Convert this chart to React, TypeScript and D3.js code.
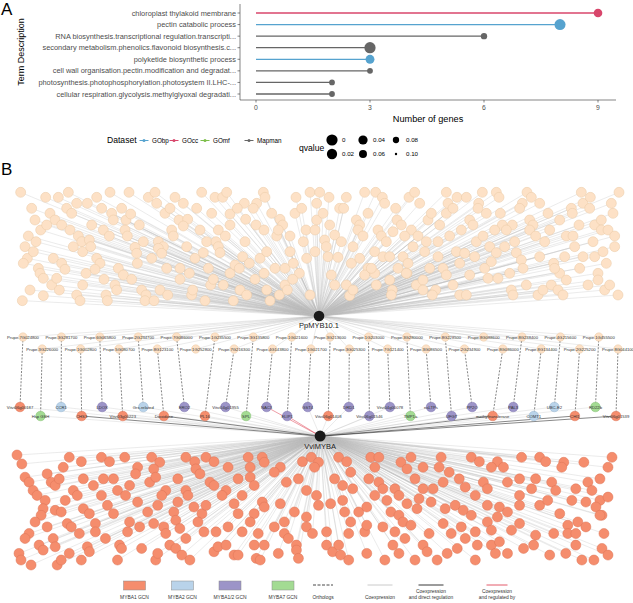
import React from "react";
import * as d3 from "d3";

// ---------- panel A data ----------
const terms = [
  "chloroplast thylakoid membrane",
  "pectin catabolic process",
  "RNA biosynthesis.transcriptional regulation.transcripti...",
  "secondary metabolism.phenolics.flavonoid biosynthesis.c...",
  "polyketide biosynthetic process",
  "cell wall organisation.pectin.modification and degradat...",
  "photosynthesis.photophosphorylation.photosystem II.LHC-...",
  "cellular respiration.glycolysis.methylglyoxal degradati...",
];
const geneCounts = [9, 8, 6, 3, 3, 3, 2, 2];
const termDatasets = ["GOcc", "GObp", "Mapman", "Mapman", "GObp", "Mapman", "Mapman", "Mapman"];
const termQvalues = [0.05, 0.003, 0.08, 0.0, 0.045, 0.085, 0.085, 0.085];
const datasetNames = ["GObp", "GOcc", "GOmf", "Mapman"];
const datasetColors = ["#56A3CF", "#D8466B", "#7DBE4B", "#666666"];
const xTicks = [0, 3, 6, 9];
const qLegend = [0, 0.02, 0.04, 0.06, 0.08, 0.1];

// ---------- panel B data ----------
// PpMYB10.1 co-expression network (layout units, left/right halves)
const topLeftNodes = [
  [62,97],[137,112],[175,112],[205,97],[262,130],[290,112],[330,97],[387,97],[445,112],[465,97],[470,130],[525,112],[550,130],[605,97],[645,112],[668,112],[680,97],[733,130],[770,130],[790,97],[795,112],[888,112],[930,97],[950,130],
  [95,145],[105,180],[150,160],[165,180],[200,145],[215,160],[230,130],[305,145],[335,160],[340,180],[365,145],[378,180],[392,162],[418,195],[495,160],[510,145],[537,180],[563,178],[550,198],[590,145],[635,160],[690,162],[712,145],[737,178],[760,145],[768,195],[815,160],[840,178],[848,195],[885,160],[905,145],[950,180],
  [85,228],[108,245],[122,210],[140,195],[185,195],[210,210],[235,228],[245,245],[268,240],[275,195],[310,210],[328,228],[375,210],[382,228],[430,245],[475,245],[490,260],[515,210],[520,228],[560,260],[600,210],[620,245],[648,245],[655,210],[676,228],[690,195],[735,245],[792,210],[830,228],[835,210],[870,228],[910,245],[918,210],[945,210],
  [75,260],[82,295],[70,310],[100,275],[160,295],[185,310],[195,328],[220,260],[248,275],[272,260],[290,295],[300,310],[285,328],[355,325],[370,345],[405,262],[410,280],[412,310],[455,295],[475,265],[485,280],[500,325],[540,325],[568,340],[585,295],[610,278],[625,325],[655,260],[660,278],[690,340],[705,315],[718,325],[728,290],[748,310],[780,295],[792,340],[800,275],[825,325],[855,325],[870,275],[880,310],[898,340],[920,295],[945,275],
  [115,325],[120,340],[130,355],[155,375],[170,355],[178,390],[90,390],[130,407],[67,422],[230,405],[240,422],[248,375],[258,340],[312,358],[318,405],[322,422],[345,375],[350,390],[395,358],[425,390],[438,405],[435,422],[462,422],[480,390],[503,405],[540,358],[575,405],[578,390],[615,422],[632,375],[640,358],[670,375],[700,422],[720,390],[740,405],[765,358],[800,390],[810,422],[838,405],[855,375],[862,390],[878,358],[930,405],
];
const topRightNodes = [
  [20,97],[48,112],[100,112],[155,97],[188,97],[208,112],[215,130],[288,112],[305,97],[320,130],[400,97],[405,130],[432,112],[460,112],[497,130],[508,97],[550,97],[558,112],[628,130],[642,97],[655,112],[680,130],[805,97],[810,130],[832,112],[895,130],[918,97],
  [30,160],[50,195],[80,145],[92,145],[130,180],[140,195],[165,160],[248,145],[252,180],[265,195],[295,210],[345,180],[355,160],[380,195],[400,160],[420,145],[470,180],[480,195],[495,145],[520,160],[562,160],[568,195],[598,195],[620,145],[650,180],[660,195],[705,160],[740,180],[775,145],[778,160],[798,195],[830,145],[845,195],[865,180],[900,160],
  [35,240],[40,260],[65,225],[85,245],[120,260],[135,210],[150,228],[195,210],[205,228],[220,245],[185,275],[240,215],[275,228],[300,260],[315,228],[340,245],[375,245],[410,228],[445,210],[490,245],[510,228],[530,260],[545,210],[575,260],[580,210],[605,245],[610,278],[650,210],[668,228],[695,245],[710,210],[760,228],[780,228],[785,260],[840,245],[865,210],[885,210],[905,228],[905,260],
  [45,290],[75,292],[115,310],[140,295],[165,325],[185,340],[210,290],[230,290],[270,290],[285,310],[255,325],[282,340],[335,275],[350,325],[375,290],[390,325],[400,345],[430,275],[440,310],[455,280],[485,290],[515,325],[535,305],[550,278],[590,340],[625,300],[630,325],[680,290],[722,310],[740,340],[725,325],[755,290],[800,325],[810,290],[845,290],[870,275],[880,310],[855,340],
  [55,345],[65,375],[100,375],[110,407],[120,390],[155,345],[175,325],[190,375],[230,360],[238,390],[235,405],[280,340],[310,375],[330,360],[330,390],[368,390],[358,405],[420,375],[440,405],[460,405],[470,345],[525,355],[555,355],[595,390],[600,405],[640,375],[675,405],[690,390],[715,375],[735,390],[750,405],[760,360],[825,375],[855,360],[875,390],[890,375],[915,405],
];
// VviMYBA co-expression network (layout units)
const bottomNodes = [
  [50,28],[62,55],[180,35],[165,65],[210,48],[260,35],[280,48],[318,35],[385,35],[405,50],[390,70],[470,35],[492,48],[520,35],[495,70],[540,48],[575,65],[625,35],[630,65],[660,35],[665,50],[705,65],[760,48],[782,35],[800,50],[790,65],[850,35],[870,48],[880,80],[930,35],[950,35],[940,65],[1005,50],[1020,70],[1030,35],[1060,65],[1105,35],[1100,65],[1125,80],[1180,35],[1200,48],[1245,48],[1260,65],[1230,65],[1305,35],[1350,35],[1365,48],[1410,50],[1405,65],[1460,50],[1530,35],[1520,65],
  [70,95],[80,110],[90,135],[125,85],[135,110],[145,120],[155,100],[190,135],[215,100],[240,120],[265,100],[290,100],[300,135],[330,120],[350,65],[345,85],[380,110],[395,95],[420,135],[450,100],[470,135],[505,85],[530,110],[540,120],[570,135],[600,100],[630,95],[640,120],[690,80],[720,110],[750,100],[770,135],[795,150],[840,100],[860,120],[885,130],[925,100],[950,110],[960,130],[990,130],[1000,150],[1040,100],[1060,130],[1085,130],[1110,110],[1150,100],[1165,125],[1190,150],[1210,110],[1220,130],[1270,110],[1300,100],[1340,100],[1330,130],[1380,110],[1390,135],[1440,130],[1470,110],[1500,100],[1480,135],
  [100,150],[120,165],[115,190],[110,210],[170,165],[145,195],[160,200],[200,150],[215,190],[230,205],[260,150],[275,180],[290,205],[320,150],[350,170],[375,200],[400,180],[410,150],[440,200],[450,170],[475,150],[490,185],[510,205],[520,180],[560,150],[590,175],[600,205],[610,150],[640,205],[660,170],[665,185],[705,175],[740,200],[770,215],[800,180],[830,175],[860,165],[865,200],[900,200],[920,185],[940,150],[970,165],[980,200],[1000,210],[1020,175],[1050,160],[1045,190],[1080,170],[1115,190],[1140,180],[1160,195],[1180,210],[1220,180],[1250,185],[1245,215],[1270,200],[1300,150],[1300,180],[1350,180],[1370,165],[1400,205],[1430,165],[1465,170],[1500,165],[1505,210],[1490,185],[1520,155],
  [95,230],[80,265],[70,280],[125,245],[140,280],[175,235],[205,265],[185,245],[245,235],[245,260],[270,280],[330,230],[325,260],[305,300],[355,245],[390,235],[415,245],[420,265],[445,225],[455,250],[470,280],[500,230],[515,260],[545,260],[575,245],[630,230],[610,260],[650,265],[690,245],[715,230],[715,265],[725,280],[770,245],[785,265],[820,260],[880,230],[875,265],[915,260],[920,240],[960,245],[990,260],[1010,230],[1015,280],[1030,240],[1075,265],[1110,235],[1130,265],[1155,245],[1165,280],[1190,260],[1220,230],[1230,255],[1280,255],[1300,235],[1340,270],[1385,265],[1420,240],[1420,265],[1445,230],[1440,265],[1465,245],[1500,210],[1510,265],
  [55,325],[60,345],[85,360],[105,300],[115,315],[145,305],[150,360],[160,345],[180,325],[210,345],[225,305],[230,320],[300,345],[310,310],[360,310],[395,345],[400,325],[430,300],[445,310],[460,330],[480,345],[540,320],[550,305],[570,300],[590,330],[600,330],[645,340],[655,345],[640,300],[665,300],[700,325],[745,300],[745,315],[750,340],[820,300],[835,320],[850,300],[855,330],[875,345],[920,325],[965,345],[985,300],[1000,325],[1040,345],[1060,300],[1070,320],[1095,345],[1120,325],[1145,310],[1190,345],[1195,300],[1230,300],[1250,290],[1240,325],[1270,325],[1310,310],[1335,300],[1375,330],[1415,325],[1440,300],[1455,345],[1485,345],[1505,310],[1520,330],
];
const hubTop = { name: "PpMYB10.1", pos: [957, 468] };
const hubBottom = { name: "VviMYBA", pos: [804, -29] };

// peach orthologs, alternating upper/lower row
const prupeGenes = [
  "Prupe.7G024800","Prupe.3G226000","Prupe.3G281700","Prupe.1G002800","Prupe.6G065800","Prupe.5G080700",
  "Prupe.2G234700","Prupe.8G123100","Prupe.7G086000","Prupe.1G252800","Prupe.1G235500","Prupe.7G216300",
  "Prupe.3G135800","Prupe.4G143800","Prupe.1G021600","Prupe.1G021700","Prupe.3G213600","Prupe.3G025300",
  "Prupe.1G203000","Prupe.7G121400","Prupe.3G280000","Prupe.3G086500","Prupe.8G228500","Prupe.2G234900",
  "Prupe.8G088600","Prupe.8G086000","Prupe.8G238400","Prupe.8G134400","Prupe.4G215600","Prupe.2G225200",
  "Prupe.1G455500","Prupe.8G044100",
];
// grapevine genes, alternating upper/lower row
const vviGenes = [
  "Vitvi06g00187","Hsp GSH","CCR1","CHS3","LDOX","Vitvi03g00223","Grx-related","Dioxidase","ERO2","PL16",
  "Vitvi04g01955","SPL","NAC3","ELIP1","GST4","Vitvi06g01408","DRD1","Vitvi06g01546","Vitvi04g00078","TMP1a",
  "nsLTPs","UFGT","PP2O","methyltransferase","PAL3","COMT1","UBC-E2","CHI1","RD22b","Vitvi06g01539",
];
const vviGroups = [
  "MYBA1","MYBA7","MYBA2","MYBA1","MYBA1/2","MYBA1","MYBA2","MYBA1","MYBA1/2","MYBA1",
  "MYBA1/2","MYBA7","MYBA1/2","MYBA1/2","MYBA1/2","MYBA1","MYBA1/2","MYBA1/2","MYBA1/2","MYBA7",
  "MYBA1/2","MYBA1/2","MYBA1/2","MYBA1","MYBA1/2","MYBA2","MYBA2","MYBA1","MYBA7","MYBA1",
];
const vviOrthologs = [
  "Prupe.7G024800","Prupe.3G226000","Prupe.3G281700","Prupe.1G002800","Prupe.6G065800","Prupe.5G080700",
  "Prupe.2G234700","Prupe.8G123100","Prupe.7G086000","Prupe.1G235500","Prupe.7G216300","Prupe.3G135800",
  "Prupe.4G143800","Prupe.1G021600","Prupe.1G021700","Prupe.3G213600","Prupe.3G025300","Prupe.1G203000",
  "Prupe.7G121400","Prupe.3G280000","Prupe.3G086500","Prupe.8G228500","Prupe.2G234900","Prupe.8G086000",
  "Prupe.8G238400","Prupe.8G134400","Prupe.4G215600","Prupe.2G225200","Prupe.1G455500","Prupe.8G044100",
];
const vviEdgeTypes = [
  "coexp","coexp","coexp","direct","coexp","coexp","coexp","direct","coexp","coexp",
  "coexp","coexp","regulated","regulated","coexp","coexp","coexp","coexp","coexp","coexp",
  "coexp","coexp","coexp","direct","coexp","coexp","coexp","direct","coexp","direct",
];
const groupNames = ["MYBA1", "MYBA2", "MYBA1/2", "MYBA7"];
const groupFills = ["#F58D6D", "#B9D3EA", "#9C94C8", "#A3DB93"];
const groupStrokes = ["#DC7457", "#98B6D0", "#8077B0", "#86C175"];
const edgeTypes = ["orthologs", "coexp", "direct", "regulated"];
const edgeColors = ["#333333", "#BDBDBD", "#222222", "#E0485A"];

const FONT = "'Liberation Sans', Arial, Helvetica, sans-serif";

export default function App() {
  // ----- scales panel A -----
  const x = d3.scaleLinear().domain([0, 9]).range([256, 598]);
  const y = d3.scalePoint<string>().domain(terms).range([13, 94]);
  const qSize = d3.scaleSqrt().domain([0, 0.1]).range([1.2, 5.6]);
  const rq = (q: number) => qSize(0.1 - q);
  const dsColor = d3.scaleOrdinal<string, string>().domain(datasetNames).range(datasetColors);

  // ----- scales panel B -----
  const tlx = d3.scaleLinear().domain([0, 960]).range([0, 320]);
  const trx = d3.scaleLinear().domain([0, 960]).range([313, 633]);
  const ty = d3.scaleLinear().domain([0, 540]).range([160, 340]);
  const bx = d3.scaleLinear().domain([50, 1530]).range([17, 612]);
  const by = d3.scaleLinear().domain([28, 360]).range([455, 565]);
  const prupeX = d3.scalePoint<string>().domain(prupeGenes).range([23, 618]);
  const prupeRow = d3.scalePoint<string>().domain(["upper", "lower"]).range([337, 349]);
  const vviX = d3.scalePoint<string>().domain(vviGenes).range([20, 616]);
  const vviRow = d3.scalePoint<string>().domain(["upper", "lower"]).range([407, 416]);
  const gFill = d3.scaleOrdinal<string, string>().domain(groupNames).range(groupFills);
  const gStroke = d3.scaleOrdinal<string, string>().domain(groupNames).range(groupStrokes);
  const eColor = d3.scaleOrdinal<string, string>().domain(edgeTypes).range(edgeColors);

  const topPts = [
    ...topLeftNodes.map(([a, b]) => [tlx(a), ty(b)]),
    ...topRightNodes.map(([a, b]) => [trx(a), ty(b)]),
  ];
  const botPts = bottomNodes.map(([a, b]) => [bx(a), by(b)]);
  const h1 = [tlx(hubTop.pos[0]), ty(hubTop.pos[1])];
  const h2 = [bx(hubBottom.pos[0]), by(hubBottom.pos[1])];

  const prupe = prupeGenes.map((g, i) => ({ name: g, x: prupeX(g)!, y: prupeRow(i % 2 ? "lower" : "upper")! }));
  const prupeByName = new Map(prupe.map((p) => [p.name, p]));
  const vvi = vviGenes.map((g, i) => ({
    name: g,
    x: vviX(g)!,
    y: vviRow(i % 2 ? "lower" : "upper")!,
    group: vviGroups[i],
    ortholog: prupeByName.get(vviOrthologs[i])!,
    edge: vviEdgeTypes[i],
  }));

  const grey = eColor("coexp");

  return (
    <svg width={633} height={603} style={{ position: "absolute", left: 0, top: 0, background: "#fff" }} fontFamily={FONT}>
      {/* ================= A ================= */}
      <text x={1} y={15} fontSize={17}>A</text>
      <text transform="translate(24,52) rotate(-90)" textAnchor="middle" fontSize={9}>Term Description</text>
      {terms.map((t, i) => (
        <g key={t}>
          <line x1={237.5} x2={240} y1={y(t)} y2={y(t)} stroke="#333" strokeWidth={0.6} />
          <text x={236} y={y(t)! + 2.5} textAnchor="end" fontSize={7.4} fill="#4d4d4d">{t}</text>
          <line x1={x(0)} x2={x(geneCounts[i])} y1={y(t)} y2={y(t)} stroke={dsColor(termDatasets[i])} strokeWidth={1.3} />
          <circle cx={x(geneCounts[i])} cy={y(t)} r={rq(termQvalues[i])} fill={dsColor(termDatasets[i])} />
        </g>
      ))}
      <line x1={240} x2={240} y1={4} y2={100} stroke="#333" strokeWidth={0.6} />
      <line x1={240} x2={616} y1={100} y2={100} stroke="#333" strokeWidth={0.6} />
      {xTicks.map((t) => (
        <g key={t}>
          <line x1={x(t)} x2={x(t)} y1={100} y2={102.5} stroke="#333" strokeWidth={0.6} />
          <text x={x(t)} y={110} textAnchor="middle" fontSize={6.8} fill="#4d4d4d">{t}</text>
        </g>
      ))}
      <text x={428} y={121.5} textAnchor="middle" fontSize={9.2}>Number of genes</text>

      {/* legend A */}
      <text x={107} y={143} fontSize={8.6}>Dataset</text>
      {datasetNames.map((d, i) => {
        const kx = [144, 174, 205, 249][i];
        return (
          <g key={d}>
            <line x1={kx - 4.5} x2={kx + 4.5} y1={140.5} y2={140.5} stroke={dsColor(d)} strokeWidth={1} />
            <circle cx={kx} cy={140.5} r={1.5} fill={dsColor(d)} />
            <text x={kx + 8} y={142.7} fontSize={6.3}>{d}</text>
          </g>
        );
      })}
      <text x={299} y={150.5} fontSize={8.6}>qvalue</text>
      {qLegend.map((q, i) => {
        const cx = [332, 363, 396][Math.floor(i / 2)];
        const cy = i % 2 ? 154 : 140;
        return (
          <g key={q}>
            <circle cx={cx} cy={cy} r={rq(q)} fill="#000" />
            <text x={cx + 10} y={cy + 2.2} fontSize={6.2}>{q === 0 ? "0" : q.toFixed(2)}</text>
          </g>
        );
      })}

      {/* ================= B ================= */}
      <text x={1} y={175} fontSize={17}>B</text>

      {/* co-expression fans */}
      <g stroke={grey} strokeWidth={0.4} strokeOpacity={0.75}>
        {topPts.map(([a, b], i) => <line key={"t" + i} x1={h1[0]} y1={h1[1]} x2={a} y2={b} />)}
        {prupe.map((p) => <line key={p.name} x1={h1[0]} y1={h1[1]} x2={p.x} y2={p.y} />)}
        {botPts.map(([a, b], i) => <line key={"b" + i} x1={h2[0]} y1={h2[1]} x2={a} y2={b} />)}
      </g>
      {vvi.map((v) => (
        <line key={v.name} x1={h2[0]} y1={h2[1]} x2={v.x} y2={v.y}
          stroke={eColor(v.edge)} strokeWidth={v.edge === "coexp" ? 0.4 : 0.6} strokeOpacity={v.edge === "coexp" ? 0.75 : 0.9} />
      ))}
      {vvi.map((v) => (
        <line key={"o" + v.name} x1={v.x} y1={v.y} x2={v.ortholog.x} y2={v.ortholog.y}
          stroke={eColor("orthologs")} strokeWidth={0.6} strokeDasharray="2,1.4" />
      ))}

      {/* nodes */}
      {topPts.map(([a, b], i) => (
        <circle key={"tn" + i} cx={a} cy={b} r={5} fill="#FDE1C6" stroke="#E9C8A4" strokeWidth={0.5} />
      ))}
      {botPts.map(([a, b], i) => (
        <circle key={"bn" + i} cx={a} cy={b} r={5} fill="#F58D6D" stroke="#DC7457" strokeWidth={0.5} />
      ))}
      {prupe.map((p) => (
        <g key={"pn" + p.name}>
          <circle cx={p.x} cy={p.y} r={4.2} fill="#FDE1C6" stroke="#E9C8A4" strokeWidth={0.5} />
          <text x={p.x} y={p.y + 1.5} textAnchor="middle" fontSize={4.2} fill="#333">{p.name}</text>
        </g>
      ))}
      {vvi.map((v) => (
        <g key={"vn" + v.name}>
          <circle cx={v.x} cy={v.y} r={4.8} fill={gFill(v.group)} stroke={gStroke(v.group)} strokeWidth={0.5} />
          <text x={v.x} y={v.y + 1.5} textAnchor="middle" fontSize={4.2} fill="#333">{v.name}</text>
        </g>
      ))}

      {/* hubs */}
      <circle cx={h1[0]} cy={h1[1]} r={5.3} fill="#1a1a1a" />
      <text x={h1[0]} y={h1[1] + 12} textAnchor="middle" fontSize={7.5} fill="#222">{hubTop.name}</text>
      <circle cx={h2[0]} cy={h2[1]} r={5.5} fill="#1a1a1a" />
      <text x={h2[0]} y={h2[1] + 13} textAnchor="middle" fontSize={7.5} fill="#222">{hubBottom.name}</text>

      {/* legend B */}
      {groupNames.map((g, i) => {
        const lx = [134.5, 182.5, 230, 283][i];
        return (
          <g key={g}>
            <rect x={lx - 11} y={581} width={22} height={9} fill={gFill(g)} stroke="#8c8c8c" strokeWidth={0.5} />
            <text x={lx} y={598.5} textAnchor="middle" fontSize={4.9} fill="#333">{g} GCN</text>
          </g>
        );
      })}
      {[
        { t: "orthologs", c: 323, w: 20, label: ["Orthologs"] },
        { t: "coexp", c: 380, w: 25, label: ["Coexpression"] },
        { t: "direct", c: 431, w: 25, label: ["Coexpression", "and direct regulation"] },
        { t: "regulated", c: 497, w: 21, label: ["Coexpression", "and regulated by"] },
      ].map((e) => (
        <g key={e.t}>
          <line x1={e.c - e.w / 2} x2={e.c + e.w / 2} y1={585} y2={585} stroke={eColor(e.t)}
            strokeWidth={e.t === "coexp" ? 0.8 : 0.9} strokeDasharray={e.t === "orthologs" ? "3,1.5" : undefined} />
          {e.label.map((l, k) => (
            <text key={l} x={e.c} y={e.label.length > 1 ? 592.5 + k * 6.5 : 598.5} textAnchor="middle" fontSize={4.9} fill="#333">{l}</text>
          ))}
        </g>
      ))}
    </svg>
  );
}
